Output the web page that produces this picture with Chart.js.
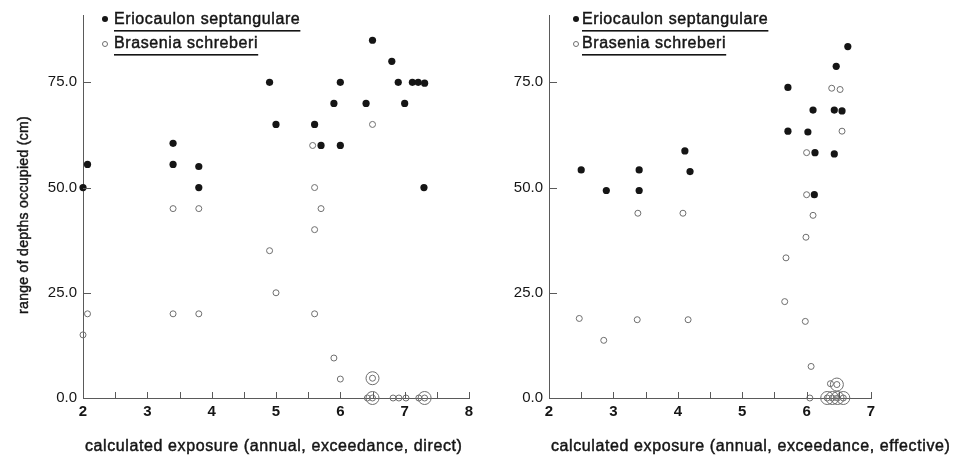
<!DOCTYPE html>
<html lang="en">
<head>
<meta charset="UTF-8" />
<title>Calculated exposure vs range of depths occupied</title>
<script src="https://cdn.jsdelivr.net/npm/chart.js"></script>
<style>
  html,body{margin:0;padding:0;background:#fff;}
  #wrap{position:relative;width:954px;height:456px;}
  canvas{position:absolute;top:0;}
</style>
</head>
<body>
<div id="wrap">
  <canvas id="direct" width="480" height="456" style="left:0"></canvas>
  <canvas id="effective" width="474" height="456" style="left:480px"></canvas>
</div>

<script>
/* ---- data ---- */
const speciesA = 'Eriocaulon septangulare';
const speciesB = 'Brasenia schreberi';
const yTitle   = 'range of depths occupied (cm)';
const yTicks   = [0, 25, 50, 75];

// panel 1: annual, exceedance, direct
const directTitle = 'calculated exposure (annual, exceedance, direct)';
const directTicks = [2, 3, 4, 5, 6, 7, 8];
const directEriX = [2.0, 2.07, 3.4, 3.4, 3.8, 3.8, 4.9, 5.0, 5.6, 5.7, 5.9, 6.0, 6.0, 6.4, 6.5, 6.8, 6.9, 7.0, 7.12, 7.21, 7.31, 7.3];
const directEriY = [50, 55.5, 60.5, 55.5, 55, 50, 75, 65, 65, 60, 70, 75, 60, 70, 85, 80, 75, 70, 75, 75, 74.8, 50];
const directBraX = [5.6, 5.7, 3.4, 3.8, 5.6, 4.9, 5.0, 3.4, 3.8, 2.07, 5.6, 2.0, 5.9, 6.0, 6.5, 6.5, 5.57, 6.42, 6.5, 6.82, 6.91, 7.02, 7.22, 7.31];
const directBraY = [50, 45, 45, 45, 40, 35, 25, 20, 20, 20, 20, 15, 9.5, 4.5, 4.7, 65, 60, 0, 0, 0, 0, 0, 0, 0];
const directMultiX = [6.5, 6.5, 7.31];   // stacked open circles
const directMultiY = [4.7, 0, 0];

// panel 2: annual, exceedance, effective
const effectiveTitle = 'calculated exposure (annual, exceedance, effective)';
const effectiveTicks = [2, 3, 4, 5, 6, 7];
const effectiveEriX = [2.5, 2.89, 3.4, 3.4, 4.11, 4.19, 5.71, 5.71, 6.02, 6.1, 6.13, 6.12, 6.43, 6.55, 6.43, 6.46, 6.64];
const effectiveEriY = [54.2, 49.3, 54.2, 49.3, 58.7, 53.8, 73.8, 63.4, 63.2, 68.4, 58.3, 48.3, 68.4, 68.2, 58, 78.8, 83.5];
const effectiveBraX = [6.0, 6.1, 3.38, 4.08, 6.39, 6.52, 6.55, 6.0, 5.99, 5.68, 5.66, 5.98, 2.47, 2.85, 3.37, 4.16, 6.07, 6.05, 6.37, 6.47, 6.32, 6.4, 6.48, 6.57];
const effectiveBraY = [48.3, 43.4, 43.9, 43.9, 73.6, 73.3, 63.4, 58.3, 38.2, 33.3, 22.9, 18.2, 18.9, 13.7, 18.6, 18.6, 7.5, 0, 3.4, 3.2, 0, 0, 0, 0];
const effectiveMultiX = [6.47, 6.32, 6.4, 6.48, 6.57];
const effectiveMultiY = [3.2, 0, 0, 0, 0];

const FONT = '"Liberation Sans", Arial, Helvetica, sans-serif';
const INK  = '#151515';
const OPEN = '#6e6e6e';
const AXIS = '#5a5a5a';

const pts = (xs, ys) => xs.map((x, i) => ({x, y: ys[i]}));

// text a little heavier than regular, like the printed original
function inkText(ctx, s, x, y) {
  ctx.fillText(s, x, y);
  ctx.lineWidth = 0.45;
  ctx.strokeStyle = INK;
  ctx.strokeText(s, x, y);
}

/* inward ticks, species key with underlines, axis titles */
const paperBits = {
  id: 'paperBits',
  afterDraw(chart, args, o) {
    const {ctx, chartArea: a, scales: {x, y}} = chart;
    ctx.save();
    ctx.strokeStyle = AXIS; ctx.lineWidth = 1;
    ctx.beginPath();
    for (let v = x.min + 0.5; v <= x.max + 1e-9; v += 0.5) {
      const px = Math.round(x.getPixelForValue(v)) + 0.5;
      ctx.moveTo(px, a.bottom); ctx.lineTo(px, a.bottom - 6);
    }
    yTicks.forEach(v => {
      if (!v) return;
      const py = Math.round(y.getPixelForValue(v)) + 0.5;
      ctx.moveTo(a.left, py); ctx.lineTo(a.left + 8, py);
    });
    ctx.stroke();

    // key
    ctx.font = `16px ${FONT}`;
    ctx.letterSpacing = '0.6px';
    ctx.textBaseline = 'alphabetic';
    [speciesA, speciesB].forEach((label, i) => {
      const base = o.keyY + i * 24;
      ctx.beginPath();
      if (i === 0) {
        ctx.arc(o.keyX, base - 5, 3, 0, Math.PI * 2);
        ctx.fillStyle = INK; ctx.fill();
      } else {
        ctx.arc(o.keyX, base - 4, 2.5, 0, Math.PI * 2);
        ctx.lineWidth = 1; ctx.strokeStyle = OPEN; ctx.stroke();
      }
      ctx.fillStyle = INK;
      inkText(ctx, label, o.textX, base);
      const w = ctx.measureText(label).width;
      ctx.fillRect(o.textX, base + 6, w, 1.6);
    });

    // x title
    ctx.font = `16px ${FONT}`;
    ctx.letterSpacing = '0.6px';
    ctx.textAlign = 'left';
    inkText(ctx, o.xTitle, a.left + 2, 451);

    // y title
    if (o.yTitle) {
      ctx.font = `14px ${FONT}`;
      ctx.letterSpacing = '0.3px';
      ctx.translate(24, 215);
      ctx.rotate(-Math.PI / 2);
      ctx.textAlign = 'center';
      ctx.textBaseline = 'middle';
      inkText(ctx, o.yTitle, 0, 0);
    }
    ctx.restore();
  }
};

function panel(id, eriX, eriY, braX, braY, multiX, multiY, xTicks, key) {
  new Chart(document.getElementById(id), {
    type: 'scatter',
    data: {
      datasets: [
        {label: speciesA, data: pts(eriX, eriY), pointRadius: 3.6, pointBorderWidth: 0,
         backgroundColor: INK, borderColor: INK, clip: false},
        {label: speciesB, data: pts(braX, braY), pointRadius: 3, pointBorderWidth: 1,
         backgroundColor: 'rgba(255,255,255,0)', borderColor: OPEN, clip: false},
        {label: 'several', data: pts(multiX, multiY), pointRadius: 6.5, pointBorderWidth: 1,
         backgroundColor: 'rgba(255,255,255,0)', borderColor: OPEN, clip: false}
      ]
    },
    options: {
      responsive: false,
      animation: false,
      layout: {padding: {top: 12, right: key.padRight, left: 0, bottom: 0}},
      scales: {
        x: {
          type: 'linear', min: xTicks[0], max: xTicks[xTicks.length - 1],
          grid: {display: false, drawTicks: false},
          border: {display: true, color: AXIS, width: 1},
          ticks: {color: INK, padding: 5, font: {family: FONT, size: 15, weight: 'bold'},
                  callback: v => String(v)},
          afterBuildTicks: s => { s.ticks = xTicks.map(v => ({value: v})); },
          afterFit: s => { s.height = 58; }
        },
        y: {
          type: 'linear', min: 0, max: 91,
          grid: {display: false, drawTicks: false},
          border: {display: true, color: AXIS, width: 1},
          ticks: {color: INK, padding: 6, font: {family: FONT, size: 15},
                  callback: v => v.toFixed(1)},
          afterBuildTicks: s => { s.ticks = yTicks.map(v => ({value: v})); },
          afterFit: s => { s.width = key.axisW; }
        }
      },
      plugins: {legend: {display: false}, tooltip: {enabled: false}, paperBits: key}
    },
    plugins: [paperBits]
  });
}

panel('direct', directEriX, directEriY, directBraX, directBraY, directMultiX, directMultiY, directTicks,
      {axisW: 83, padRight: 11, keyX: 105, textX: 114, keyY: 24, xTitle: directTitle, yTitle: yTitle});
panel('effective', effectiveEriX, effectiveEriY, effectiveBraX, effectiveBraY, effectiveMultiX, effectiveMultiY, effectiveTicks,
      {axisW: 69, padRight: 83, keyX: 96, textX: 102, keyY: 24, xTitle: effectiveTitle, yTitle: null});
</script>
</body>
</html>
